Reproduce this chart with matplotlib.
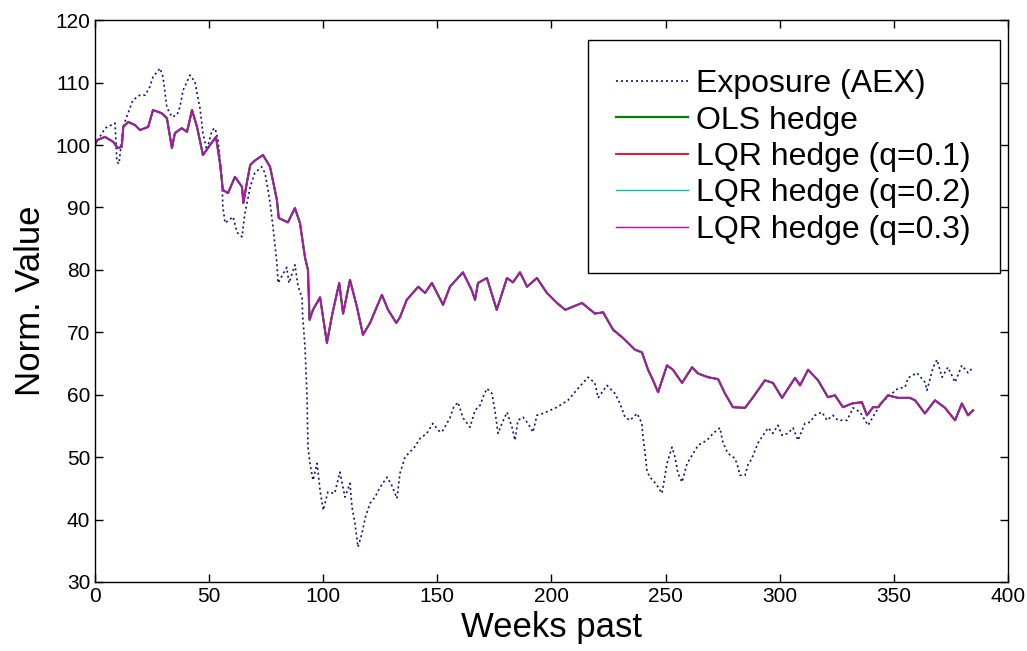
import matplotlib
matplotlib.use('Agg')
import matplotlib.pyplot as plt

# exposure (AEX)
exp_weeks = [0, 4.4, 8.8, 9.6, 10.5, 12.4, 15.3, 16.6, 19.7, 22, 24, 25.4, 28.5, 29.8, 30.7, 31.5,
             33.7, 35.9, 37.2, 38.6, 40.3, 41.6, 43.8, 44.7, 46, 47.3, 49, 51.3, 52.6, 53.9, 55.6,
             56, 57, 60.5, 62.2, 64.4, 65.7, 66.6, 68, 70, 73, 74.5, 75.8, 76.7, 78, 79.7, 80.2,
             84, 85, 87.6, 89, 90.7, 91, 92, 92.9, 93.3, 94.2, 95.5, 97.3, 98.6, 100, 102, 105,
             107.3, 109.5, 111.7, 112.6, 113.9, 115.2, 117, 118.3, 120.5, 122.7, 124.9, 128, 130,
             132.3, 133.6, 135.8, 136.6, 140, 142.4, 145.4, 148, 151.2, 152.5, 155.5, 157, 159,
             161.2, 164.3, 166.5, 168.7, 170, 171.7, 173.9, 175.2, 176.6, 178.3, 180.5, 182.7,
             184, 185.3, 187.5, 189.7, 191.9, 193.6, 196.3, 199.3, 202.4, 205, 207.2, 211.6, 216,
             219, 220.4, 224.3, 227.8, 230, 232.2, 234.4, 237.5, 239.6, 240, 241, 241.8, 243,
             244.5, 246.7, 248.4, 250.6, 252.8, 254.1, 255.4, 257.2, 259.4, 261.6, 264.2, 268.1,
             270.8, 273.8, 275.1, 277.3, 280.4, 281.7, 282.6, 284.8, 286, 287.8, 290.5, 292.7,
             294.9, 297, 299.2, 301, 303.6, 305.8, 308, 311, 313.3, 315.4, 318.5, 320.7, 323.3,
             325.5, 329.5, 332.1, 335.2, 338.7, 341.7, 344.8, 349.2, 351.8, 354.9, 356.2, 360.1,
             363.6, 364.5, 367.2, 368.9, 371.1, 373.7, 376.8, 379.8, 382.5, 384.7]
exposure = [100, 102.7, 103.5, 97.3, 97, 103, 105.9, 107.2, 108, 108, 109.3, 110.9, 112.3, 110.9,
            108.3, 106, 104.5, 104.8, 106.1, 108.8, 110.1, 111.2, 110.1, 108.3, 105.9, 101.9, 99.2,
            102.4, 102.7, 100.8, 94.9, 90.1, 87.5, 88.5, 86, 85.3, 89.1, 90.7, 93.3, 95.5, 96.5,
            95.5, 92.8, 90.7, 86.8, 81.1, 77.9, 80.4, 77.9, 80.8, 77.3, 75.6, 72.5, 67.7, 59.6,
            51.6, 49, 46.3, 49, 44.7, 41.5, 44.4, 44.2, 47.6, 43.6, 45.8, 42, 39.4, 35.6, 37.8,
            40.2, 42.6, 43.6, 45.2, 46.8, 45.5, 43.4, 47.4, 50, 50.3, 51.6, 53, 53.8, 55.4, 54,
            54.3, 56.3, 57.9, 58.8, 56.3, 54.8, 57.5, 58.3, 59.6, 61, 60.2, 57.5, 53.8, 55.4, 57.2,
            54.8, 52.7, 55.9, 56.4, 55.4, 54, 56.7, 57, 57.5, 58, 58.6, 59.1, 61, 62.8, 61.9, 59.5,
            61.5, 60.2, 58.6, 56.4, 55.9, 57, 55.4, 53.5, 50.6, 47.9, 46.8, 46.3, 45.2, 44.2, 49,
            51.6, 50, 47.4, 46, 49, 50.3, 51.9, 52.7, 53.8, 54.7, 52.3, 50.6, 49.8, 48.4, 47.1,
            47.1, 48.7, 49.8, 52.3, 53.5, 54.7, 53.8, 55.1, 53.5, 53.8, 54.7, 52.7, 55.4, 55.6,
            56.7, 57.2, 55.9, 56.7, 55.9, 55.9, 57.9, 57.2, 55.1, 57, 58.8, 60.2, 61, 61.2, 62.7,
            63.5, 62, 60.7, 64.4, 65.6, 62.8, 64.4, 62, 64.7, 63.5, 64.4]

# hedged portfolio (the four hedges lie on top of each other)
hedge_weeks = [0, 1, 4.4, 8, 10, 11.7, 12.4, 14.6, 17.5, 19.7, 23.3, 25.4, 29.2, 31.5, 33.7, 35,
               38, 40.3, 42.5, 44.7, 47.3, 50.4, 53, 54.8, 56, 58.3, 61.3, 64.4, 65, 66.5, 68, 70,
               73.6, 76.7, 79.7, 80.5, 84.5, 87.6, 89.8, 92, 93.3, 94, 95.5, 98.6, 101.6, 104,
               107, 108.7, 111.7, 114.8, 117.4, 120.5, 125.7, 128.4, 132, 133.6, 136.6, 141.6,
               144.6, 147.6, 152.5, 155.5, 161.2, 165, 166.5, 167.8, 171.7, 176, 180.5, 183.1,
               186.2, 189.3, 193.6, 198, 202.4, 206, 213.4, 219, 222.6, 227, 231.3, 236.6, 239.6,
               242.3, 244.5, 246.7, 250.6, 253.2, 257.2, 261.6, 264.2, 268.6, 273, 276, 279.5,
               284.8, 288.3, 293.5, 297, 301, 306.7, 308.9, 312.4, 316.8, 321.1, 324.2, 327.7,
               331.7, 336, 338.2, 340.9, 343, 347.4, 351.8, 357, 359.3, 363.6, 368, 372.4, 376.8,
               379.8, 382.5, 384.7]
ols_hedge = [100, 100.8, 101.3, 100.5, 99.5, 99.7, 102.9, 103.7, 103.2, 102.4, 102.9, 105.6, 105.1,
             104.3, 99.5, 101.9, 102.7, 102.1, 105.6, 102.9, 98.4, 100, 101.3, 97, 92.8, 92.3,
             94.9, 93.3, 90.7, 93.9, 96.8, 97.5, 98.4, 96.5, 91.2, 88.3, 87.6, 89.9, 87.5, 82, 80,
             72, 73.6, 75.6, 68.3, 73, 77.9, 73, 78.4, 74, 69.6, 71.5, 76, 73.6, 71.5, 72.4, 75.2,
             77.3, 76.3, 77.9, 74.4, 77.3, 79.6, 76.8, 75.2, 77.9, 78.7, 73.6, 78.7, 78, 79.6,
             77.3, 78.7, 76.3, 74.7, 73.6, 74.7, 73, 73.2, 70.4, 69.1, 67.2, 66.8, 64, 62.3, 60.4,
             64.7, 64, 61.9, 64.4, 63.4, 62.8, 62.5, 60.2, 58, 57.9, 59.6, 62.3, 61.9, 59.5, 62.7,
             61.5, 64, 62.3, 59.6, 59.9, 58, 58.6, 58.8, 56.7, 58, 58, 59.9, 59.5, 59.5, 59.1, 57,
             59.1, 57.9, 55.9, 58.6, 56.7, 57.5]
lqr_q01 = ols_hedge
lqr_q02 = ols_hedge
lqr_q03 = ols_hedge

plt.rcParams['font.family'] = ['Liberation Sans', 'DejaVu Sans']

fig = plt.figure(figsize=(10.27, 6.51), dpi=100)
ax = fig.add_axes([0.0925, 0.106, 0.889, 0.863])

ax.plot(exp_weeks, exposure, color='#10107a', linestyle=(0, (1.2, 1.8)), linewidth=1.2,
        label='Exposure (AEX)')
ax.plot(hedge_weeks, ols_hedge, color=(0, 0.5, 0), linewidth=1.6, label='OLS hedge')
ax.plot(hedge_weeks, lqr_q01, color=(0.9, 0, 0.1), linewidth=1.3, label='LQR hedge (q=0.1)')
ax.plot(hedge_weeks, lqr_q02, color=(0, 0.75, 0.75), linewidth=1.0, label='LQR hedge (q=0.2)')
ax.plot(hedge_weeks, lqr_q03, color=(0.75, 0, 0.75), linewidth=1.0, label='LQR hedge (q=0.3)')

ax.set_xlim(0, 400)
ax.set_ylim(30, 120)
ax.set_xticks(range(0, 401, 50))
ax.set_yticks(range(30, 121, 10))
ax.tick_params(direction='in', top=True, right=True, length=6, labelsize=15, width=1)
for s in ax.spines.values():
    s.set_linewidth(1)

ax.set_xlabel('Weeks past', fontsize=25, labelpad=4)
ax.set_ylabel('Norm. Value', fontsize=25, labelpad=6)

leg = ax.legend(loc='upper right', bbox_to_anchor=(0.991, 0.964), borderaxespad=0,
                fontsize=23, handlelength=2.25, handletextpad=0.25, labelspacing=0.2,
                borderpad=0.9, fancybox=False, framealpha=1, edgecolor='black')
leg.get_frame().set_linewidth(1)

fig.savefig('out.png', dpi=100)
